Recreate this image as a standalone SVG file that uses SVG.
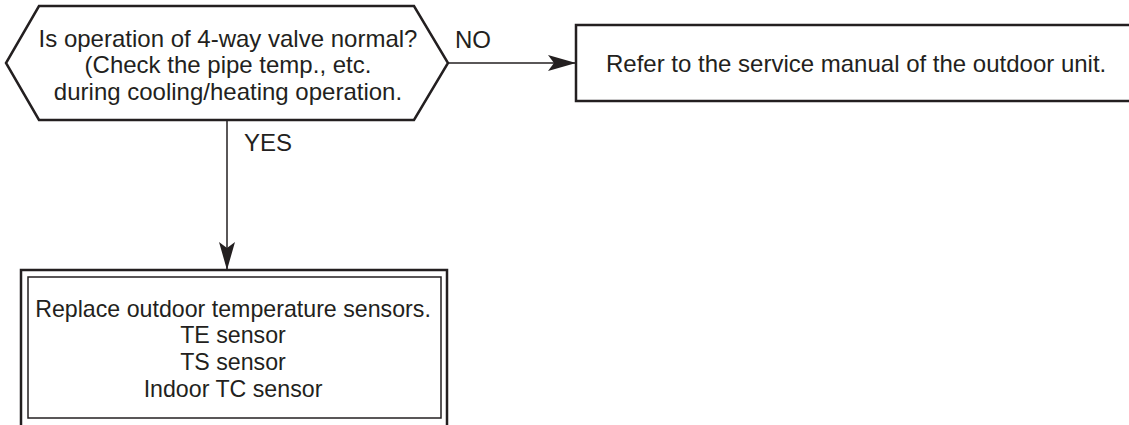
<svg xmlns="http://www.w3.org/2000/svg" width="1129" height="425" viewBox="0 0 1129 425">
<style>
.shape{fill:#fff;stroke:#231f20;stroke-width:2.5}
.inner{fill:none;stroke:#231f20;stroke-width:1.5}
.conn{fill:none;stroke:#231f20;stroke-width:1.5}
text{font-family:"Liberation Sans",Arial,sans-serif;font-size:24px;fill:#231f20}
.c{text-anchor:middle}
.s{font-size:23.2px}
</style>
<defs>
<marker id="arr" markerUnits="userSpaceOnUse" markerWidth="30" markerHeight="16" viewBox="0 0 28 16" refX="28" refY="8" orient="auto">
<path d="M0,0 L28,8 L0,16 L6,8 Z" fill="#231f20"/>
</marker>
</defs>
<rect width="1129" height="425" fill="#fff"/>
<g id="connectors">
<line class="conn" x1="448" y1="63" x2="576" y2="63" marker-end="url(#arr)"/>
<line class="conn" x1="227" y1="121" x2="227" y2="270" marker-end="url(#arr)"/>
<text x="455" y="48">NO</text>
<text x="244" y="151">YES</text>
</g>
<g id="decision">
<polygon class="shape" points="39,6 414,6 448,63 414,120 39,120 6,63"/>
<text class="c" x="228" y="47">Is operation of 4-way valve normal?</text>
<text class="c" x="228" y="73">(Check the pipe temp., etc.</text>
<text class="c" x="228" y="100">during cooling/heating operation.</text>
</g>
<g id="outdoor-manual">
<rect class="shape" x="576" y="25" width="570" height="76"/>
<text x="606" y="72">Refer to the service manual of the outdoor unit.</text>
</g>
<g id="replace-sensors">
<rect class="shape" x="21" y="270" width="426" height="170"/>
<rect class="inner" x="28" y="277" width="413" height="141"/>
<text class="c s" x="233" y="317">Replace outdoor temperature sensors.</text>
<text class="c s" x="233" y="343">TE sensor</text>
<text class="c s" x="233" y="370">TS sensor</text>
<text class="c s" x="233" y="397">Indoor TC sensor</text>
</g>
</svg>
